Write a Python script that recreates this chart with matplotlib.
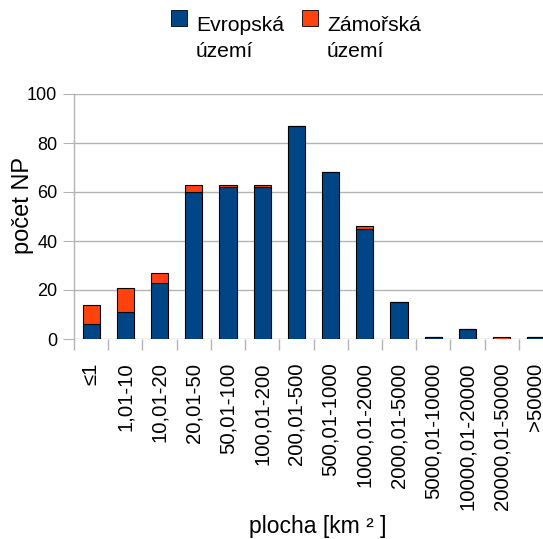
import matplotlib.pyplot as plt
import numpy as np
from matplotlib.patches import Rectangle

plt.rcParams['font.family'] = ['Liberation Sans', 'DejaVu Sans']

# kategorie plochy a pocty NP
categories = ['≤1', '1,01-10', '10,01-20', '20,01-50', '50,01-100', '100,01-200',
              '200,01-500', '500,01-1000', '1000,01-2000', '2000,01-5000',
              '5000,01-10000', '10000,01-20000', '20000,01-50000', '>50000']
evropska = [6, 11, 23, 60, 62, 62, 87, 68, 45, 15, 1, 4, 0, 1]
zamorska = [8, 10, 4, 3, 1, 1, 0, 0, 1, 0, 0, 0, 1, 0]
yticks = [0, 20, 40, 60, 80, 100]

blue = '#004586'
orange = '#ff420e'
grid_c = '#b3b3b3'

fig = plt.figure(figsize=(5.43, 5.39), dpi=100)
ax = fig.add_axes([74 / 543, 1 - 339 / 539, 479 / 543, 245 / 539])

x = np.arange(len(categories))
ax.bar(x, evropska, width=0.5, color=blue, edgecolor='black', linewidth=0.8, zorder=3)
ax.bar(x, zamorska, width=0.5, bottom=evropska, color=orange, edgecolor='black',
       linewidth=0.8, zorder=3)

ax.set_xlim(-0.5, len(categories) - 0.5)
ax.set_ylim(0, 100)
ax.set_yticks(yticks)
ax.tick_params(axis='y', length=8, color=grid_c, labelsize=13, pad=4)
ax.yaxis.grid(True, color=grid_c, linewidth=1, zorder=0)
ax.set_axisbelow(True)

# popisky pod sloupci, carky mezi kategoriemi
ax.set_xticks(x)
ax.set_xticklabels(categories, rotation=90, fontsize=14.7)
ax.tick_params(axis='x', which='major', length=0, pad=17)
ax.set_xticks(np.arange(len(categories) + 1) - 0.5, minor=True)
ax.tick_params(axis='x', which='minor', length=8, color=grid_c, width=1)

for s in ['top', 'right', 'bottom']:
    ax.spines[s].set_visible(False)
ax.spines['left'].set_color(grid_c)
ax.spines['left'].set_linewidth(1)

fig.text(23 / 543, 1 - 206 / 539, 'počet NP', rotation=90, fontsize=17,
         ha='center', va='center')
fig.text(318 / 543, 1 - 527 / 539, 'plocha [km ² ]', fontsize=16.5,
         ha='center', va='center')

# legenda
for (lx, color, l1, l2) in [(171, blue, 'Evropská', 'území'),
                            (302, orange, 'Zámořská', 'území')]:
    fig.patches.append(Rectangle((lx / 543, 1 - 26 / 539), 16 / 543, 16 / 539,
                                 transform=fig.transFigure, facecolor=color,
                                 edgecolor='black', linewidth=0.6))
    fig.text((lx + 25) / 543, 1 - 31 / 539, l1, fontsize=15.2, ha='left', va='baseline')
    fig.text((lx + 25) / 543, 1 - 57 / 539, l2, fontsize=15.2, ha='left', va='baseline')

fig.savefig('out.png', dpi=100)
